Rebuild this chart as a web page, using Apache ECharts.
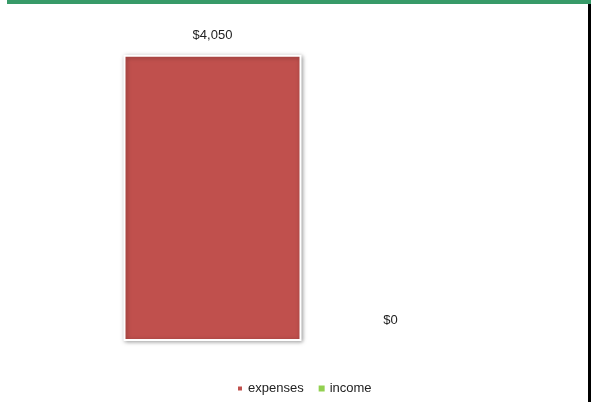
<!DOCTYPE html>
<html>
<head>
<meta charset="utf-8">
<script src="https://cdn.jsdelivr.net/npm/echarts@6/dist/echarts.min.js"></script>
<style>
  html, body { margin: 0; padding: 0; background: #fff; }
  #chart { width: 591px; height: 402px; }
</style>
</head>
<body>
<div id="chart"></div>
<script>
  var categories = [''];
  var expenses = [4050];
  var income = [0];

  function money(p) {
    return '$' + p.value.toLocaleString('en-US');
  }

  var chart = echarts.init(document.getElementById('chart'));
  var option = {
    animation: false,
    textStyle: { fontFamily: 'Liberation Sans, Arial, sans-serif' },
    graphic: [
      { type: 'rect', shape: { x: 7, y: 0, width: 584, height: 4 }, style: { fill: '#379A68' } },
      { type: 'rect', shape: { x: 588, y: 4, width: 3, height: 398 }, style: { fill: '#000' } }
    ],
    grid: { left: 20, right: 8, top: 23, bottom: 61 },
    legend: {
      bottom: 2,
      left: 231,
      itemWidth: 6,
      itemHeight: 6,
      itemGap: 15,
      icon: 'rect',
      textStyle: { fontSize: 13, color: '#222', padding: [0, 0, 0, 0] },
      data: ['expenses', 'income']
    },
    xAxis: {
      type: 'category',
      data: categories,
      axisLine: { show: false },
      axisTick: { show: false },
      axisLabel: { show: false }
    },
    yAxis: {
      type: 'value',
      min: 0,
      max: 4500,
      show: false,
      splitLine: { show: false }
    },
    series: [
      {
        name: 'expenses',
        type: 'bar',
        data: expenses,
        barWidth: 178,
        barGap: '0%',
        itemStyle: {
          color: '#C0504D',
          borderColor: '#fff',
          borderWidth: 2,
          shadowColor: 'rgba(0,0,0,0.35)',
          shadowBlur: 4,
          shadowOffsetX: 1,
          shadowOffsetY: 1
        },
        label: { show: true, position: 'top', distance: 13, fontSize: 13, color: '#222', formatter: money }
      },
      {
        name: 'income',
        type: 'bar',
        data: income,
        barWidth: 178,
        itemStyle: { color: '#92D050' },
        label: { show: true, position: 'top', distance: 14, fontSize: 13, color: '#222', formatter: money }
      }
    ]
  };
  chart.setOption(option);
</script>
</body>
</html>
